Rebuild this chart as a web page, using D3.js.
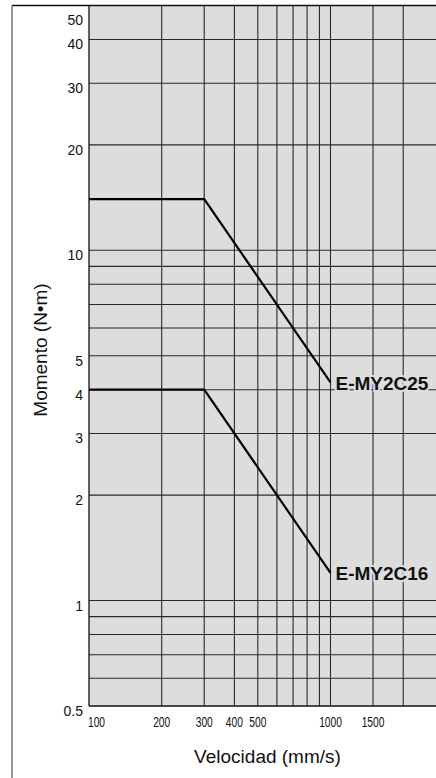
<!DOCTYPE html>
<html>
<head>
<meta charset="utf-8">
<script src="https://cdn.jsdelivr.net/npm/d3@7"></script>
<style>
  body { margin: 0; background: #fff; }
  text { font-family: "Liberation Sans", Arial, Helvetica, sans-serif; }
</style>
</head>
<body>
<script>
// values
var xGrid = [200, 300, 400, 500, 600, 700, 800, 900, 1000, 1500, 2000];
var xTicks = [100, 200, 300, 400, 500, 1000, 1500];
var yGrid = [0.6, 0.7, 0.8, 0.9, 1, 2, 3, 4, 5, 6, 7, 8, 9, 10, 20, 30, 40];
var yTicks = [0.5, 1, 2, 3, 4, 5, 10, 20, 30, 40, 50];
var seriesNames = ['E-MY2C25', 'E-MY2C16'];
var speed = [100, 300, 1000];
var moment25 = [14, 14, 4.2];
var moment16 = [4, 4, 1.2];

var W = 436, H = 778;
var svg = d3.select('body').append('svg')
    .attr('width', W)
    .attr('height', H);

var x = d3.scaleLog().domain([100, 1000]).range([89, 330.5]);
var y = d3.scaleLog().domain([0.5, 50]).range([706, 5.5]);

// plot background
svg.append('rect')
    .attr('x', x(100))
    .attr('y', y(50))
    .attr('width', W - x(100))
    .attr('height', y(0.5) - y(50))
    .attr('fill', '#dddddd');

// grid
svg.append('g').selectAll('line').data(xGrid).join('line')
    .attr('x1', function (d) { return x(d); })
    .attr('x2', function (d) { return x(d); })
    .attr('y1', y(50))
    .attr('y2', y(0.5))
    .attr('stroke', '#2a2a2a')
    .attr('stroke-width', 1.1);

svg.append('g').selectAll('line').data(yGrid).join('line')
    .attr('x1', x(100))
    .attr('x2', W)
    .attr('y1', function (d) { return y(d); })
    .attr('y2', function (d) { return y(d); })
    .attr('stroke', '#2a2a2a')
    .attr('stroke-width', 1.1);

// frame
svg.append('line')
    .attr('x1', 12).attr('x2', W)
    .attr('y1', y(50)).attr('y2', y(50))
    .attr('stroke', '#111').attr('stroke-width', 1.5);
svg.append('line')
    .attr('x1', 12).attr('x2', 12)
    .attr('y1', y(50)).attr('y2', H)
    .attr('stroke', '#555').attr('stroke-width', 1.2);
svg.append('line')
    .attr('x1', x(100)).attr('x2', x(100))
    .attr('y1', y(50)).attr('y2', y(0.5))
    .attr('stroke', '#111').attr('stroke-width', 1.3);
svg.append('line')
    .attr('x1', x(100)).attr('x2', W)
    .attr('y1', y(0.5)).attr('y2', y(0.5))
    .attr('stroke', '#111').attr('stroke-width', 1.3);

// y tick labels
svg.append('g').selectAll('text').data(yTicks).join('text')
    .attr('x', 83)
    .attr('y', function (d) { return Math.max(y(d) + 10, 25); })
    .attr('text-anchor', 'end')
    .attr('font-size', 14)
    .attr('fill', '#111')
    .text(function (d) { return d; });

// x tick labels (condensed)
svg.append('g').selectAll('text').data(xTicks).join('text')
    .attr('transform', function (d) {
        return 'translate(' + (d === 100 ? x(d) - 1 : x(d)) + ',727) scale(0.66,1)';
    })
    .attr('text-anchor', function (d) { return d === 100 ? 'start' : 'middle'; })
    .attr('font-size', 15.5)
    .attr('fill', '#111')
    .text(function (d) { return d; });

// axis titles
svg.append('text')
    .attr('x', 267.5)
    .attr('y', 763)
    .attr('text-anchor', 'middle')
    .attr('font-size', 19)
    .attr('fill', '#111')
    .text('Velocidad (mm/s)');

svg.append('text')
    .attr('transform', 'translate(46.5,350) rotate(-90)')
    .attr('text-anchor', 'middle')
    .attr('font-size', 19)
    .attr('fill', '#111')
    .text('Momento (N\u2022m)');

// series lines
var line = d3.line()
    .x(function (d) { return x(d[0]); })
    .y(function (d) { return y(d[1]); });

var series = [moment25, moment16].map(function (vals, i) {
    return { name: seriesNames[i], pts: speed.map(function (s, j) { return [s, vals[j]]; }) };
});

svg.append('g').selectAll('path').data(series).join('path')
    .attr('d', function (d) { return line(d.pts); })
    .attr('fill', 'none')
    .attr('stroke', '#000')
    .attr('stroke-width', 2.2);

svg.append('g').selectAll('text').data(series).join('text')
    .attr('x', function (d) { return x(d.pts[2][0]) + 5; })
    .attr('y', function (d) { return y(d.pts[2][1]) + 7.5; })
    .attr('font-size', 19)
    .attr('font-weight', 'bold')
    .attr('fill', '#111')
    .attr('stroke', '#dddddd')
    .attr('stroke-width', 4)
    .attr('paint-order', 'stroke')
    .text(function (d) { return d.name; });
</script>
</body>
</html>
